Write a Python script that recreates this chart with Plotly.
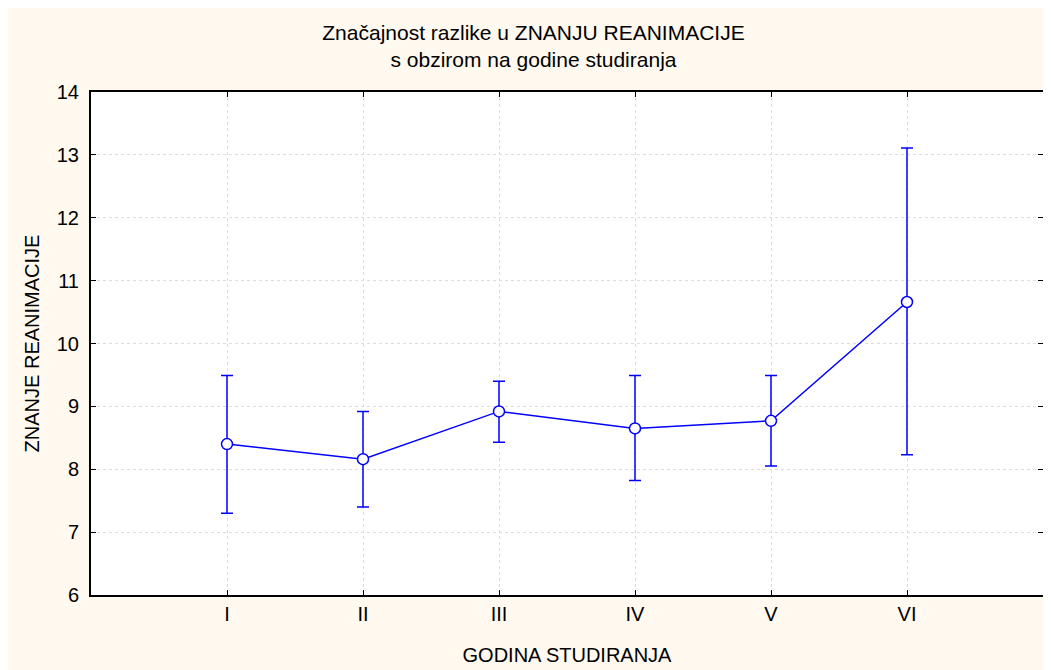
import plotly.graph_objects as go

categories = ["I", "II", "III", "IV", "V", "VI"]
means = [8.40, 8.16, 8.92, 8.65, 8.77, 10.66]
upper = [9.49, 8.92, 9.40, 9.49, 9.49, 13.11]
lower = [7.30, 7.40, 8.43, 7.82, 8.05, 8.23]

err_plus = [u - m for u, m in zip(upper, means)]
err_minus = [m - l for m, l in zip(means, lower)]

BLUE = "#0000FF"
CREAM = "#FFF9EF"
FONT = "Liberation Sans, Arial, sans-serif"

fig = go.Figure()
fig.add_trace(go.Scatter(
    x=categories, y=means, mode="lines+markers",
    line=dict(color=BLUE, width=1.5),
    marker=dict(symbol="circle", size=11, color="white",
                line=dict(color=BLUE, width=1.5)),
    error_y=dict(type="data", symmetric=False, array=err_plus,
                 arrayminus=err_minus, color=BLUE, thickness=1.5, width=6),
    showlegend=False,
))

W, H = 1051, 670
L, R, T, B = 83, 16, 84, 83

fig.update_layout(
    width=W, height=H,
    margin=dict(l=L, r=R, t=T, b=B),
    paper_bgcolor=CREAM, plot_bgcolor="white",
    font=dict(family=FONT, color="black"),
    title=dict(
        text="Značajnost razlike u ZNANJU REANIMACIJE<br>s obzirom na godine studiranja",
        x=0.5, xanchor="center", y=0.952, yanchor="top",
        font=dict(size=21, family=FONT, color="black"),
    ),
)

fig.update_xaxes(
    type="category", categoryorder="array", categoryarray=categories,
    range=[-1, 6],
    showline=True, linecolor="black", linewidth=2, mirror="ticks",
    ticks="inside", ticklen=5, tickcolor="black", tickwidth=1,
    showgrid=True, gridcolor="#dcdcdc", griddash="dot", gridwidth=1,
    tickfont=dict(size=20, family=FONT),
    title=dict(text="GODINA STUDIRANJA", font=dict(size=20, family=FONT), standoff=24),
    zeroline=False,
)
fig.update_yaxes(
    range=[6, 14], dtick=1, tick0=6,
    showline=True, linecolor="black", linewidth=2, mirror="ticks",
    ticks="inside", ticklen=5, tickcolor="black", tickwidth=1,
    showgrid=True, gridcolor="#dcdcdc", griddash="dot", gridwidth=1,
    tickfont=dict(size=20, family=FONT), ticklabelstandoff=6,
    title=dict(text="ZNANJE REANIMACIJE", font=dict(size=20, family=FONT), standoff=12),
    zeroline=False,
)

fig.write_html("out.html")
